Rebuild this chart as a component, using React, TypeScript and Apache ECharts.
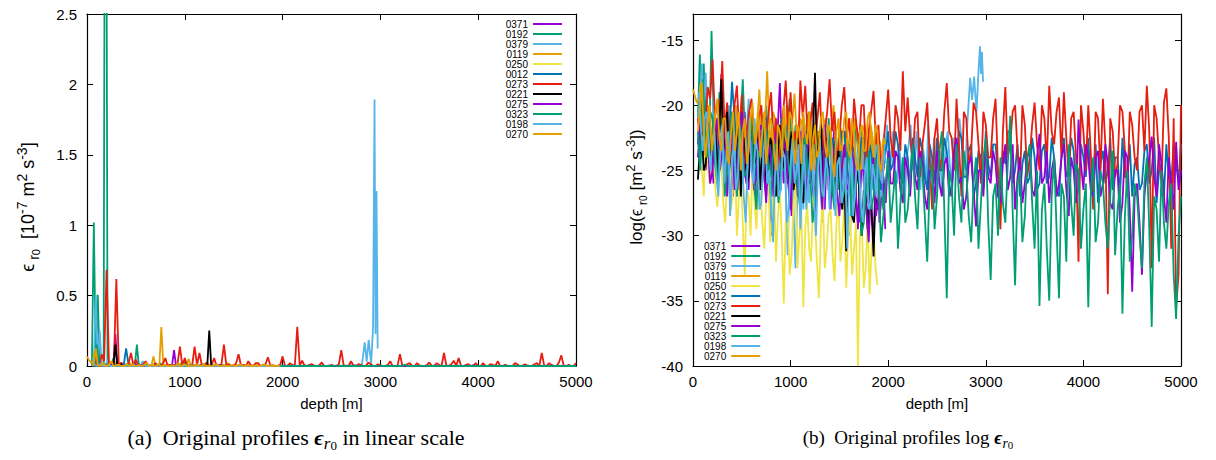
import React, { useEffect, useRef } from "react";
import * as echarts from "echarts";

// ---------- data: natural log of epsilon_r0 along depth ----------
const NAMES = ["0371", "0192", "0379", "0119", "0250", "0012", "0273", "0221", "0275", "0323", "0198", "0270"];
const COLORS = ["#9400d3", "#009e73", "#56b4e9", "#e69f00", "#f0e442", "#0072b2", "#e51e10", "#000000", "#9400d3", "#009e73", "#56b4e9", "#e69f00"];
// first depth and depth spacing of each profile [m]
const START_DEPTH = [50, 50, 50, 0, 90, 50, 50, 50, 50, 50, 60, 50];
const DEPTH_STEP = [20, 20, 20, 20, 20, 25, 25, 20, 25, 25, 20, 20];

const P0371 = [-23, -21.5, -20, -23, -25, -22.5, -21.5, -24, -26, -23.5, -22, -21, -17.6, -22, -24, -22.5, -21, -25, -27, -24, -22.5, -26.5, -25, -22, -20.5, -24, -26.5, -22, -23, -26, -28, -24, -21.5, -23.5, -25.5, -27, -22, -27.5, -30, -25.5, -24, -21.5, -18.3, -23, -26, -24, -22.5, -25.5, -28.5, -25, -23, -27, -25.5, -23, -21, -25, -27, -22.5, -24, -26.5, -29, -25, -22, -24.5, -26, -28, -23.5, -25, -28, -23.5, -21.5, -26.5, -25, -23, -27.5, -24.5, -22, -27, -26, -22.5, -24, -27, -29.5, -25.5, -23, -26, -27, -24, -25, -28.5, -30, -26, -23.5, -29, -27, -25.5, -29.5];
const P0192 = [-21, -16.1, -20.5, -16.8, -21, -20, -21.5, -14.3, -20.5, -21, -23.5, -19, -22, -23, -21, -20.5, -23, -25, -22.5, -21, -24.5, -23.5, -21, -18, -22, -24, -20.5, -21.5, -24.5, -26, -23, -22, -25.5, -24.5, -21.5, -20, -23.5, -25.5, -21, -22.5, -26, -27, -23.5, -21, -25, -24, -21.5, -19.5, -23, -25, -21.5, -22, -25.5, -27.5, -24, -23, -21, -20.5, -23.5, -25.5, -22.5, -22, -24.5, -26.5, -22, -23.5, -25.5, -21, -24, -27, -23, -24, -26.5, -22, -24, -26, -22, -23, -25.5, -28, -24.5, -21.5, -23.5, -25, -22, -23, -25.5, -27.5, -23.5, -22, -25, -26, -22.5, -24, -26.5, -28, -26, -25];
const P0379 = [-21, -19.8, -16.8, -20.5, -17.5, -21, -22, -24.5, -19.2, -22, -24, -21, -21.5, -23.5, -26, -22.5, -20, -25, -23.5, -21, -27, -24, -21, -26, -24.5, -22, -19.5, -23.5, -26, -21, -22.5, -26.5, -28, -23.5, -21, -25.5, -24, -27, -29.5, -24.5, -22, -27, -25.5, -22, -20.5, -26, -31.5, -25, -23, -28, -32.5, -26.5, -21.5, -24, -28, -25, -24, -27.5, -22, -24.5, -26.5, -23, -23, -27, -29, -24.5, -21.5, -26, -25, -23, -27.5, -24.5, -22.5, -27, -26, -23.5, -24, -28, -30, -25.5, -22, -24, -25.5, -22.5, -23.5, -26, -28, -24.5, -22.5, -25.5, -26.5, -23, -24, -26, -27, -24, -23, -21.5, -25.5, -24, -22, -25, -26, -23, -24.5, -26.5, -27.5, -24, -23, -21.5, -25, -24.5, -22, -25, -26.5, -23, -24, -26, -21.5, -24, -25, -22.5, -27, -24.5, -23.5, -26.5, -25.5, -23, -22, -24.5, -26, -22.5, -24, -25, -21, -22.5, -23.5, -25, -21.5];
const P0379_TAIL = [[2840, -17.9], [2860, -19.6], [2880, -17.8], [2905, -20.5], [2925, -17.4], [2940, -15.48], [2950, -17.6], [2960, -15.9], [2972, -18.2]];
const P0119 = [-18.8, -19.3, -19.8, -19.6, -18.4, -21, -22, -20.5, -20, -22, -23.5, -21, -21, -23, -19.5, -22, -24, -21, -21.5, -23.5, -23, -21.5, -20, -23, -25, -21.5, -22, -25, -24, -22, -20.5, -22.5, -23, -21, -18.8, -22, -22.5, -21, -17.4, -21.5, -23, -20.5, -21, -23.5, -24.5, -21.5, -22, -24, -20, -22.5, -23.5, -21, -19.1, -22, -24, -21, -21.5, -23.5, -23, -21.5, -20.5, -23, -25, -22, -22, -24.5, -24, -21.5, -21, -24, -23.5, -21.5, -20, -23, -24.5, -21.5, -22, -24.5, -25, -22, -21, -24.5, -23.5, -21, -22, -24, -25.5, -22, -21.5, -23.5, -24, -21.5, -22.5, -24.5, -25, -22.5, -23, -25.5, -24.5];
const P0250 = [-24.7, -27, -22, -24.5, -26, -23, -23.5, -26.5, -27.8, -25, -24, -27.5, -29, -25.5, -23, -28, -26.5, -24, -30, -27, -25, -29, -33, -26.5, -27, -30, -24.5, -27.5, -29.5, -25.5, -26, -29, -31, -27, -25, -30.5, -28.5, -26, -32, -28.5, -26.5, -30, -35.2, -29, -28, -33, -31.5, -27.5, -26, -32.5, -30, -28, -35.5, -29.5, -27.5, -31, -32, -27, -29, -32, -34.8, -29.5, -27, -32.5, -31, -28.5, -28, -31.5, -33.5, -29, -27, -32, -30.5, -27.5, -34, -30, -28.5, -33, -31, -29, -40, -30, -29, -34, -32.5, -28.5, -34.5, -31, -29.5, -32.5, -33.8];
const P0012 = [
  -22.5, -24.5, -20, -22, -23, -20.5, -21, -23.5, -24, -21, -22, -24.5, -25, -22, -18.2, -21, -23.5, -22, -21.5, -24,
  -24, -21.5, -22, -24.5, -25.5, -22.5, -23, -21, -21, -23.5, -24.5, -22, -22.5, -25, -26, -23.5, -23, -21.5, -24.5, -22.5,
  -22, -24, -25, -22.5, -23.5, -25.5, -26, -23, -22.5, -25, -24, -22, -21.5, -24, -25.5, -22.5, -23, -26, -24.5, -22,
  -22, -24.5, -26, -23, -23.5, -26, -25, -22.5, -22.5, -25.5, -24, -23, -26.5, -24.5, -23, -26.5, -25, -23.5, -22, -25,
  -24.5, -22, -23, -25.5, -26, -23, -24, -26.5, -22.5, -24, -25.5, -22.5, -23.5, -25.5, -26.5, -23, -24, -26, -22.5, -25,
  -25, -22.5, -23.5, -26, -27, -24, -24.5, -22, -22.5, -25.5, -25.5, -23.5, -23, -27, -26, -23.5, -24, -26.5, -22, -24.5,
  -25.5, -23, -23, -25.5, -26.5, -23.5, -24.5, -22, -22, -26, -25, -23, -27, -24.5, -23.5, -26, -25.5, -22.5, -24, -26.5,
  -26, -23.5, -23, -26, -25.5, -22.5, -24, -26.5, -27, -24, -22.5, -25.5, -25, -22.5, -23.5, -27, -26.5, -23, -24, -25.5,
  -22.5, -26, -25.5, -23, -27.5, -24.5, -23.5, -26, -25, -22.5, -26.5, -24, -24, -27, -22.5, -25.5, -25.5, -23, -27, -24.5,
  -24, -26.5, -26, -23.5, -23, -26, -25, -22.5, -27.5, -25, -24.5, -27, -23, -25.5, -26, -23, -24.5, -26, -23];
const P0273 = [
  -21, -23, -20.5, -22, -18.6, -19.5, -16.5, -21, -19.6, -20.5, -16.6, -22, -19.8, -23.5, -21.5, -20, -18.5, -22.5, -19.2, -24,
  -22, -20.5, -19.5, -24, -23, -21, -20, -23.5, -22.5, -20.5, -19, -23, -21, -24.5, -23, -20.5, -18.1, -22, -19, -23,
  -22, -24, -18.1, -21, -18.5, -22.5, -21.5, -19.8, -23, -21, -19, -23.5, -22, -20.5, -18, -22, -20.5, -24.5, -22.5, -20,
  -18.6, -22.5, -21, -24, -19.5, -21.5, -23, -20, -20, -24.5, -22, -20.5, -18.9, -23, -21.5, -25, -23, -21, -18.8, -22.5,
  -24, -20, -21, -23.5, -17.4, -22, -19.4, -22.5, -24.5, -21, -20.5, -25.5, -23, -21.5, -19.8, -24, -28, -22.5, -21, -25,
  -24, -20.5, -18.3, -22, -22.5, -25, -19.5, -23, -27, -20.5, -21, -24.5, -23.5, -19.8, -20.5, -23, -26, -20.5, -21.5, -24,
  -24, -21, -19.5, -25, -29.5, -22, -18.6, -24, -23, -20.5, -20, -23.5, -26, -20, -21.5, -25.5, -24, -21.5, -19.8, -23,
  -25, -20, -21, -24.5, -18.5, -22, -23, -20.5, -19.4, -24, -19, -22.5, -25.5, -21, -20.5, -24, -32, -20, -22, -25,
  -20, -23.5, -28, -20.5, -21, -25, -19.5, -23, -34.5, -21, -22, -25.5, -24.5, -20, -20.5, -23.5, -27, -20.5, -21.5, -24,
  -25, -20.5, -20, -23.5, -18.5, -22, -32.5, -20, -21, -24, -26, -19.8, -18.7, -22.5, -31, -21, -35.5, -33, -20];
const P0221 = [-25.7, -23.5, -22, -25, -24.5, -22, -20.5, -24.5, -23, -21.5, -26, -22, -18, -23.5, -22.5, -20.5, -25, -23, -21, -25.5, -24, -21.5, -27, -24, -22.5, -26, -25.5, -23, -21.5, -24.5, -24, -22, -26.5, -23.5, -22, -26, -25, -22.5, -23, -26, -27, -23.5, -21.5, -25, -24.5, -22, -26, -23.5, -22, -26.5, -25.5, -22.5, -23.5, -26, -27.5, -24, -22, -25.5, -24.5, -22, -17.5, -24, -23, -21.5, -26, -24.5, -22.5, -26.5, -25, -23, -27, -25, -23.5, -27, -28, -25.5, -31.2, -27, -25, -28.5, -29, -26, -24.5, -28, -30, -26.5, -27, -29.5, -25.5, -28, -31.6, -27, -28];
const P0275 = [
  -24, -21.5, -19, -23, -22.5, -26, -25, -22, -21, -25, -23.5, -21, -27, -24, -22, -26.5, -24.5, -22, -20.5, -25,
  -26, -22.5, -23, -26.5, -25.5, -22, -21.5, -25, -27.5, -23, -24, -27, -22, -25, -26.5, -22.5, -23.5, -26, -28, -24,
  -24.5, -27, -22, -24.5, -26, -23, -23, -26, -27, -23.5, -25, -28, -21.5, -24.5, -26.5, -23, -24, -26.5, -28.5, -25,
  -23, -26.5, -26, -23.5, -24.5, -27.5, -29, -25, -25, -28, -30.5, -26, -24, -28.5, -27, -24, -25.5, -27.5, -23.5, -26,
  -26, -23.5, -24, -26.5, -27.5, -24, -25, -27, -23, -25.5, -26.5, -23.5, -24.5, -27, -28, -25, -25, -27.5, -23.5, -26,
  -27, -24.5, -24, -27, -26.5, -23.5, -22.5, -26, -25.5, -28, -27, -24.5, -24, -26.5, -29.3, -25, -25, -27, -23, -25.5,
  -26, -23.5, -24.5, -27, -27.5, -24.5, -23, -26.5, -25.5, -23, -28, -25.5, -24, -27.5, -26, -24, -23.5, -26.5, -27, -24,
  -22.2, -26, -25.5, -23.5, -27.5, -25, -24, -27, -26, -24, -23, -26.5, -28.5, -24, -25, -27.5, -21.1, -24.5, -26.5, -23,
  -24, -26.5, -27, -24, -23.5, -27, -26, -23, -24.5, -27.5, -28, -25, -25, -29, -27.5, -23.5, -24, -28, -34.3, -27,
  -26, -29, -33, -27, -25, -24, -22.4, -25.5, -27, -23, -24.5, -27, -29, -24, -26, -28, -22.8, -26.5, -25];
const P0323 = [
  -22, -25, -18, -22, -24, -20.5, -21, -24.5, -26, -23, -22, -27, -25, -22.5, -20.5, -24, -27, -21.5, -23, -25.5,
  -25, -22.5, -21, -26, -28, -23.5, -24, -21, -22, -25.5, -27, -23, -23, -27.5, -25.5, -22, -21.5, -24.5, -26, -22.5,
  -24, -26.5, -28, -23, -22.5, -25.5, -25, -29, -27.5, -24, -23, -27, -26, -23.5, -22, -26.5, -28, -24.5, -24, -27.5,
  -26.5, -24, -23, -28.5, -27, -25, -24.5, -30, -29, -26, -23.5, -28, -27, -24, -25, -30.5, -28.5, -26, -24, -29,
  -27, -25, -31, -27.5, -24, -29, -28, -25.5, -23, -27, -29.5, -24, -25, -28.5, -32, -26, -24.5, -29.5, -27, -23.5,
  -22, -28, -34.8, -25, -26, -30, -23, -27, -29, -23.5, -25, -28.5, -30.5, -26, -24, -31, -27.5, -24, -22.5, -29,
  -33.4, -27, -26, -30, -24, -27.5, -29, -24.5, -20.8, -28, -33.8, -26, -25, -30.5, -28.5, -24, -23, -27.5, -31, -25,
  -35.4, -28, -26, -31, -35, -27, -24, -29.5, -34.8, -26, -27, -32, -23, -27.5, -30, -24.5, -25, -31, -28, -26,
  -35.5, -27, -24, -30.5, -29, -25, -26, -29, -31, -27, -23.5, -31.5, -28, -26, -36, -28.5, -25, -32, -30, -26,
  -27, -30, -32.5, -26, -24, -29.5, -37, -27, -28, -32, -25, -29, -31, -27.5, -26, -33, -36.4, -30, -27];
const P0198 = [-19, -21.5, -23.5, -21, -20.5, -23, -25, -22.5, -22, -25.5, -27, -23.5, -21.5, -26, -24, -22, -28.5, -25, -22, -26.5, -25.5, -22.5, -23, -27, -29, -24.5, -21, -25, -26, -22.5, -23.5, -28, -27.5, -24, -22, -26, -25, -27.5, -30.5, -25.5, -23, -27, -26.5, -23.5, -24, -29, -28, -24.5, -22.5, -26, -25, -23, -29.5, -26, -23, -28, -26, -23.5, -24.5, -27, -30, -25, -22.5, -26.5, -27, -24, -25, -28, -23, -25.5, -28.5, -24.5, -24, -27.5, -26.5, -24, -31, -26, -23.5, -28.5, -27, -24, -25, -27.5, -29, -25.5, -24, -28, -27.5, -24.5, -25.5, -27, -23, -25.5, -26, -23.5, -24.5];
const P0270 = [-22, -20.5, -18.2, -22, -24, -21.5, -20, -23.5, -22.5, -20.5, -19.5, -22.5, -23.5, -21, -21, -24, -24.5, -22, -20.5, -23.5, -22, -20.5, -25, -22, -21, -24.5, -23.5, -21, -19.8, -23, -22.5, -20.5, -24, -22, -20.5, -24.5, -23, -21, -21.5, -23.5, -25, -21.5, -22, -24, -20, -22.5, -23.5, -20.5, -21, -23, -24.5, -21.5, -22, -24.5, -20.5, -22, -23, -20.5, -25, -22.5, -21.5, -24, -23.5, -21, -20.5, -23, -24, -21.5, -22, -24.5, -25.5, -22, -21, -23.5, -23, -21, -20.5, -23.5, -24, -21, -22.5, -24.5, -25, -22, -21.5, -23.5, -23.5, -21, -20.5, -23, -24, -21.5, -22, -24.5, -25, -22.5, -23];

const PROFILES = [P0371, P0192, P0379, P0119, P0250, P0012, P0273, P0221, P0275, P0323, P0198, P0270];

// axis ticks
const X_TICKS = { min: 0, max: 5000, interval: 1000 };
const Y_LIN = { min: 0, max: 2.5, interval: 0.5 };
const Y_LOG = { min: -40, max: -13, interval: 5 };

const SANS = "Liberation Sans, Arial, Helvetica, sans-serif";
const SERIF = "Liberation Serif, Times New Roman, serif";

function profilePoints(i: number): number[][] {
  const pts = PROFILES[i].map((v, k) => [START_DEPTH[i] + k * DEPTH_STEP[i], v]);
  if (NAMES[i] === "0379") return pts.concat(P0379_TAIL);
  return pts;
}

export default function App() {
  const ref = useRef<HTMLDivElement>(null);
  useEffect(() => {
    if (!ref.current) return;
    const chart = echarts.init(ref.current, undefined, { renderer: "svg" });

    const tick = { inside: true, length: 6, lineStyle: { color: "#000", width: 1 } };
    const line = { show: true, onZero: false, lineStyle: { color: "#000", width: 1.2 } };
    const label = { color: "#000", fontSize: 15, fontFamily: SANS };

    const xBase = (grid: number, pos: string, main: boolean) => ({
      type: "value", gridIndex: grid, position: pos, ...X_TICKS,
      axisLine: line, axisTick: tick, splitLine: { show: false },
      axisLabel: main ? { ...label, margin: 8, formatter: (v: number) => String(v) } : { show: false },
      name: main ? "depth [m]" : "", nameLocation: "middle", nameGap: 30,
      nameTextStyle: { color: "#000", fontSize: 15, fontFamily: SANS },
    });
    const yBase = (grid: number, pos: string, main: boolean, sc: any) => ({
      type: "value", gridIndex: grid, position: pos, ...sc,
      axisLine: line, axisTick: tick, splitLine: { show: false },
      axisLabel: main ? { ...label, margin: 10, showMaxLabel: sc.max === 2.5, formatter: (v: number) => String(v) } : { show: false },
    });

    const series: any[] = [];
    NAMES.forEach((name, i) => {
      const pts = profilePoints(i);
      series.push({
        type: "line", name, xAxisIndex: 0, yAxisIndex: 0, color: COLORS[i],
        data: pts.map(([d, v]) => [d, Math.exp(v) * 1e7]),
        symbol: "none", showSymbol: false, clip: true, silent: true,
        lineStyle: { width: 1.8, color: COLORS[i] }, itemStyle: { color: COLORS[i] },
      });
    });
    NAMES.forEach((name, i) => {
      const pts = profilePoints(i);
      series.push({
        type: "line", name, xAxisIndex: 1, yAxisIndex: 1, color: COLORS[i],
        data: pts,
        symbol: "none", showSymbol: false, clip: true, silent: true,
        lineStyle: { width: 1.8, color: COLORS[i] }, itemStyle: { color: COLORS[i] },
      });
    });

    const legendCommon = {
      data: NAMES, orient: "vertical", align: "right", icon: "rect",
      itemWidth: 29, itemHeight: 2, itemGap: 0, padding: 0, selectedMode: false,
      textStyle: { color: "#000", fontSize: 10, lineHeight: 10, fontFamily: SANS },
    };

    const subRich = (base: number, font: string) => ({
      n: { fontSize: base, lineHeight: base + 8, verticalAlign: "middle", fontFamily: font, fill: "#000" },
      e: { fontSize: base, lineHeight: base + 8, verticalAlign: "middle", fontFamily: font, fill: "#000" },
      eb: { fontSize: base, lineHeight: base + 8, verticalAlign: "middle", fontFamily: font, fontStyle: "italic", fontWeight: "bold", fill: "#000" },
      s: { fontSize: Math.round(base * 0.75), lineHeight: Math.round(base * 0.75), verticalAlign: "bottom", fontFamily: font, fill: "#000" },
      si: { fontSize: Math.round(base * 0.75), lineHeight: Math.round(base * 0.75), verticalAlign: "bottom", fontFamily: font, fontStyle: "italic", fill: "#000" },
      z: { fontSize: Math.round(base * 0.6), lineHeight: Math.round(base * 0.6), verticalAlign: "bottom", fontFamily: font, fill: "#000" },
      p: { fontSize: Math.round(base * 0.75), lineHeight: Math.round(base * 0.75), verticalAlign: "top", fontFamily: font, fill: "#000" },
    });

    chart.setOption({
      animation: false,
      backgroundColor: "#fff",
      grid: [
        { left: 87, top: 14, width: 489, height: 352 },
        { left: 693, top: 14, width: 488, height: 352 },
      ],
      xAxis: [xBase(0, "bottom", true), xBase(1, "bottom", true), xBase(0, "top", false), xBase(1, "top", false)],
      yAxis: [yBase(0, "left", true, Y_LIN), yBase(1, "left", true, Y_LOG), yBase(0, "right", false, Y_LIN), yBase(1, "right", false, Y_LOG)],
      legend: [
        { ...legendCommon, right: 1216 - 562, top: 19 },
        { ...legendCommon, left: 704, top: 241 },
      ],
      series,
      graphic: [
        {
          type: "text", x: 28, y: 207, rotation: Math.PI / 2,
          style: {
            text: "{e|ϵ}{s| r}{z|0}{n|  [10}{p|-7}{n| m}{p|2}{n| s}{p|-3}{n|]}",
            rich: subRich(18, SANS), align: "center", verticalAlign: "middle", fill: "#000",
          },
        },
        {
          type: "text", x: 636, y: 187, rotation: Math.PI / 2,
          style: {
            text: "{n|log(}{e|ϵ}{s| r}{z|0}{n| [m}{p|2}{n| s}{p|-3}{n|])}",
            rich: subRich(17, SANS), align: "center", verticalAlign: "middle", fill: "#000",
          },
        },
        {
          type: "text", x: 296, y: 437,
          style: {
            text: "{n|(a)  Original profiles }{eb|ϵ}{si|r}{z|0}{n| in linear scale}",
            rich: subRich(22, SERIF), align: "center", verticalAlign: "middle", fill: "#000",
          },
        },
        {
          type: "text", x: 908, y: 437,
          style: {
            text: "{n|(b)  Original profiles log }{eb|ϵ}{si|r}{z|0}",
            rich: subRich(19, SERIF), align: "center", verticalAlign: "middle", fill: "#000",
          },
        },
      ],
    });
    return () => chart.dispose();
  }, []);
  return <div ref={ref} style={{ position: "absolute", left: 0, top: 0, width: 1216, height: 460 }} />;
}
